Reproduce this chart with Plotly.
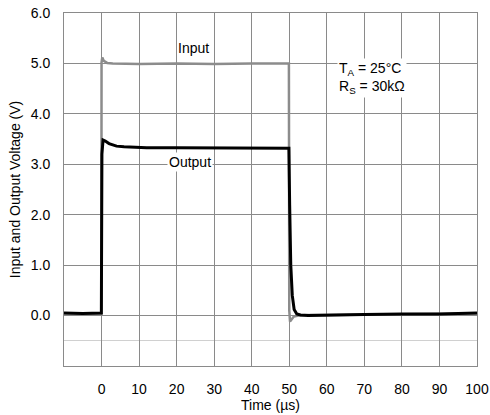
import plotly.graph_objects as go

# Waveforms (time in µs, voltage in V)
t_in = [-10, -5, -0.05, 0, 0.2, 0.6, 1.5, 3, 10, 20, 30, 40, 49.9, 50, 50.2, 50.6, 51.2, 52.5, 55, 60, 70, 80, 90, 100]
v_in = [0.04, 0.04, 0.04, 5.02, 5.12, 5.05, 5.01, 5.0, 4.99, 5.0, 4.99, 5.0, 5.0, 0.1, -0.12, -0.08, -0.02, 0.0, 0.01, 0.01, 0.02, 0.02, 0.03, 0.04]

t_out = [-10, -5, -0.05, 0.1, 0.4, 1, 2, 3, 4, 6, 8, 12, 20, 30, 40, 49.9, 50.1, 50.4, 50.8, 51.3, 52, 53, 55, 60, 70, 80, 90, 100]
v_out = [0.05, 0.04, 0.05, 3.2, 3.48, 3.46, 3.41, 3.38, 3.36, 3.35, 3.34, 3.33, 3.33, 3.33, 3.32, 3.32, 2.2, 1.0, 0.4, 0.12, 0.03, 0.01, 0.0, 0.01, 0.02, 0.03, 0.03, 0.05]

x_ticks = list(range(0, 101, 10))
y_ticks = [0, 1, 2, 3, 4, 5, 6]

fig = go.Figure()

fig.add_trace(go.Scatter(x=t_in, y=v_in, mode='lines', name='Input',
                         line=dict(color='#8c8c8c', width=2.5)))
fig.add_trace(go.Scatter(x=t_out, y=v_out, mode='lines', name='Output',
                         line=dict(color='black', width=3)))

fig.add_annotation(x=24.5, y=5.3, text='Input', showarrow=False,
                   font=dict(size=14, color='black'))
fig.add_annotation(x=23.5, y=3.05, text='Output', showarrow=False,
                   bgcolor='white', font=dict(size=14, color='black'))
fig.add_annotation(x=72, y=4.72, text='T<sub>A</sub> = 25°C<br>R<sub>S</sub> = 30kΩ',
                   showarrow=False, align='left', bgcolor='white',
                   font=dict(size=14, color='black'))

fig.update_layout(
    template='none',
    width=490, height=415,
    margin=dict(l=64, r=13, t=13, b=49),
    plot_bgcolor='white', paper_bgcolor='white',
    showlegend=False,
    font=dict(family='Liberation Sans, Arial, sans-serif', size=14, color='black'),
)

fig.update_xaxes(
    automargin=False,
    range=[-10, 100], tickvals=x_ticks, ticktext=[str(v) for v in x_ticks],
    tickfont=dict(size=14),
    showgrid=True, gridcolor='#8a8a8a', gridwidth=1,
    showline=True, linecolor='#8a8a8a', mirror=True, zeroline=False,
    title=dict(text='Time (µs)', standoff=4, font=dict(size=14)),
    ticks='', ticklabelstandoff=10,
)
fig.update_yaxes(
    automargin=False,
    range=[-1.0, 6.0], tickvals=y_ticks, ticktext=[f'{v:.1f}' for v in y_ticks],
    tickfont=dict(size=14),
    showgrid=True, gridcolor='#8a8a8a', gridwidth=1,
    minor=dict(tickvals=[-0.5], showgrid=True, gridcolor='#d0d0d0', gridwidth=1),
    showline=True, linecolor='#8a8a8a', mirror=True, zeroline=False,
    title=dict(text='Input and Output Voltage (V)', standoff=6, font=dict(size=14)),
    ticks='', ticklabelstandoff=10,
)

# drop the default page margin so the figure sits at the window's corner
fig.write_html('out.html', config={'displayModeBar': False},
               post_script="document.body.style.margin='0';")
